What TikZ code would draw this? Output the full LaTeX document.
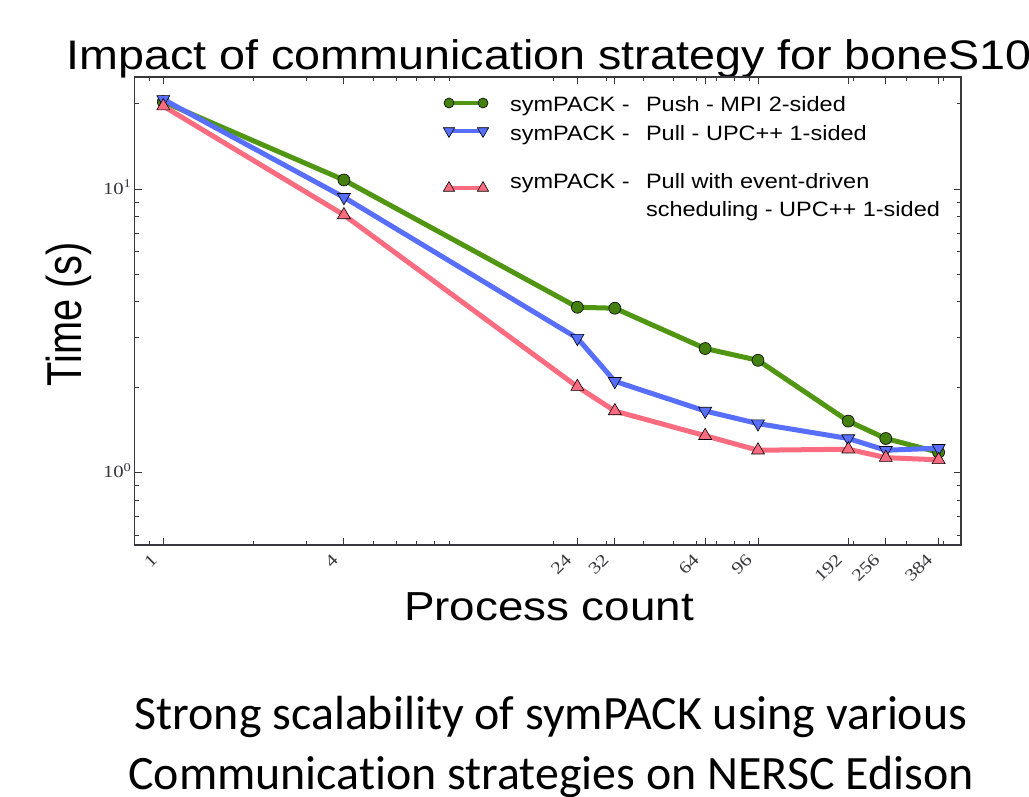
\documentclass[tikz,border=0pt]{standalone}
\usepackage{fontspec}
\setmainfont{Liberation Serif}
\setsansfont{Liberation Sans}
\newfontfamily\widesans[FakeStretch=1.13]{Liberation Sans}
\newfontfamily\tallsans[FakeStretch=0.81]{Liberation Sans}
\newfontfamily\wideserif[FakeStretch=1.22]{Liberation Serif}
\newfontfamily\slidefont[Ligatures=NoCommon]{Carlito}
\usetikzlibrary{shapes.geometric}
\definecolor{axisgray}{RGB}{55,55,60}
\definecolor{pushgreen}{RGB}{80,150,18}
\definecolor{pullblue}{RGB}{88,110,252}
\definecolor{eventpink}{RGB}{252,108,128}

\begin{document}
\begin{tikzpicture}[x=1pt,y=-1pt,every node/.style={inner sep=0pt,outer sep=0pt}]
  \tikzset{
    frameline/.style={draw=axisgray,line width=1.3pt},
    tickline/.style={draw=axisgray,line width=0.9pt},
    ticklabel/.style={font=\wideserif\fontsize{17}{17}\selectfont,text=axisgray},
    pushline/.style={draw=pushgreen,line width=5pt,line join=round},
    pullline/.style={draw=pullblue,line width=5pt,line join=round},
    eventline/.style={draw=eventpink,line width=5pt,line join=round},
    pushmark/.style={circle,draw=black,line width=0.6pt,fill=pushgreen!85!black,minimum size=12pt},
    pullmark/.style={regular polygon,regular polygon sides=3,shape border rotate=180,draw=black,line width=0.6pt,fill=pullblue,minimum size=15pt},
    eventmark/.style={regular polygon,regular polygon sides=3,draw=black,line width=0.6pt,fill=eventpink,minimum size=15pt},
    legtext/.style={font=\widesans\fontsize{20.8}{25}\selectfont,anchor=base west}
  }
  \useasboundingbox (0,0) rectangle (1029,797);
  \fill[white] (0,0) rectangle (1029,797);

  % title and axis labels
  \node[font=\widesans\fontsize{41.3}{46}\selectfont,anchor=base west] (title) at (66.7,70) {Impact of communication strategy for boneS10};
  \node[font=\tallsans\fontsize{49}{52}\selectfont,rotate=90,anchor=base] (ylabel) at (81,314) {Time (s)};
  \node[font=\widesans\fontsize{40.5}{44}\selectfont,anchor=base] (xlabel) at (549,620) {Process count};

  % log-log plot area
  \begin{scope}[shift={(163.3,472.7)},x=300pt,y=283.7pt]
    \def\xmin{-0.096} \def\xmax{2.659} \def\ymin{-0.255} \def\ymax{1.395}
    \draw[frameline] (\xmin,\ymin) rectangle (\xmax,\ymax);
    \foreach \n in {1,4,24,32,64,96,192,256,384} {
      \coordinate (xb\n) at ({log10(\n)},\ymin);
      \draw[tickline] (xb\n) -- ++(0pt,7pt);
      \draw[tickline] ({log10(\n)},\ymax) -- ++(0pt,-7pt);
      \node[ticklabel,rotate=45,anchor=east] (xt\n) at ([xshift=-9pt,yshift=-12pt]xb\n) {\n};
    }
    \foreach \n in {0.9,2,3,5,6,7,8,9,20,30,40,50,60,70,80,90,200,300,400} {
      \draw[tickline] ({log10(\n)},\ymin) -- ++(0pt,4pt);
      \draw[tickline] ({log10(\n)},\ymax) -- ++(0pt,-4pt);
    }
    \foreach \t/\e in {1/0,10/1} {
      \coordinate (yb\e) at (\xmin,{log10(\t)});
      \draw[tickline] (yb\e) -- ++(7pt,0pt);
      \draw[tickline] (\xmax,{log10(\t)}) -- ++(-7pt,0pt);
      \node[ticklabel,anchor=base east] (yt\e) at ([xshift=-3pt,yshift=-5pt]yb\e) {10\textsuperscript{\e}};
    }
    \foreach \t in {0.6,0.7,0.8,0.9,2,3,4,5,6,7,8,9,20} {
      \draw[tickline] (\xmin,{log10(\t)}) -- ++(4pt,0pt);
      \draw[tickline] (\xmax,{log10(\t)}) -- ++(-4pt,0pt);
    }

    % measured times
    \foreach \n/\t [count=\i] in {1/20.3,4/10.76,24/3.83,32/3.80,64/2.74,96/2.49,192/1.52,256/1.32,384/1.18}
      \coordinate (push\i) at ({log10(\n)},{log10(\t)});
    \foreach \n/\t [count=\i] in {1/20.7,4/9.35,24/2.98,32/2.10,64/1.65,96/1.49,192/1.32,256/1.20,384/1.22}
      \coordinate (pull\i) at ({log10(\n)},{log10(\t)});
    \foreach \n/\t [count=\i] in {1/19.6,4/8.10,24/2.01,32/1.65,64/1.35,96/1.20,192/1.21,256/1.13,384/1.11}
      \coordinate (event\i) at ({log10(\n)},{log10(\t)});

    \draw[pushline] (push1) \foreach \i in {2,...,9} { -- (push\i) };
    \foreach \i in {1,...,9} \node[pushmark] at (push\i) {};
    \draw[pullline] (pull1) \foreach \i in {2,...,9} { -- (pull\i) };
    \foreach \i in {1,...,9} \node[pullmark] at (pull\i) {};
    \draw[eventline] (event1) \foreach \i in {2,...,9} { -- (event\i) };
    \foreach \i in {1,...,9} \node[eventmark] at (event\i) {};
  \end{scope}

  % legend
  \coordinate (lg1a) at (449,103); \coordinate (lg1b) at (483,103);
  \coordinate (lg2a) at (449,131); \coordinate (lg2b) at (483,131);
  \coordinate (lg3a) at (449,188); \coordinate (lg3b) at (483,188);
  \draw[pushline,line width=4pt] (lg1a) -- (lg1b);
  \node[pushmark,minimum size=10pt] at (lg1a) {};
  \node[pushmark,minimum size=10pt] at (lg1b) {};
  \draw[pullline,line width=4pt] (lg2a) -- (lg2b);
  \node[pullmark,minimum size=13pt] at (lg2a) {};
  \node[pullmark,minimum size=13pt] at (lg2b) {};
  \draw[eventline,line width=4pt] (lg3a) -- (lg3b);
  \node[eventmark,minimum size=13pt] at (lg3a) {};
  \node[eventmark,minimum size=13pt] at (lg3b) {};
  \node[legtext] (leg1) at (510,112) {symPACK -};
  \node[legtext] (leg1b) at (646,112) {Push - MPI 2-sided};
  \node[legtext] (leg2) at (510,141) {symPACK -};
  \node[legtext] (leg2b) at (646,141) {Pull - UPC++ 1-sided};
  \node[legtext] (leg3) at (510,189) {symPACK -};
  \node[legtext] (leg3b) at (646,189) {Pull with event-driven};
  \node[legtext] (leg3c) at (646,216) {scheduling - UPC++ 1-sided};

  % slide caption
  \node[font=\slidefont\fontsize{47.9}{60}\selectfont,align=center,anchor=base] (caption) at (551,789)
    {Strong scalability of symPACK using various\\ Communication strategies on NERSC Edison};
\end{tikzpicture}
\end{document}
